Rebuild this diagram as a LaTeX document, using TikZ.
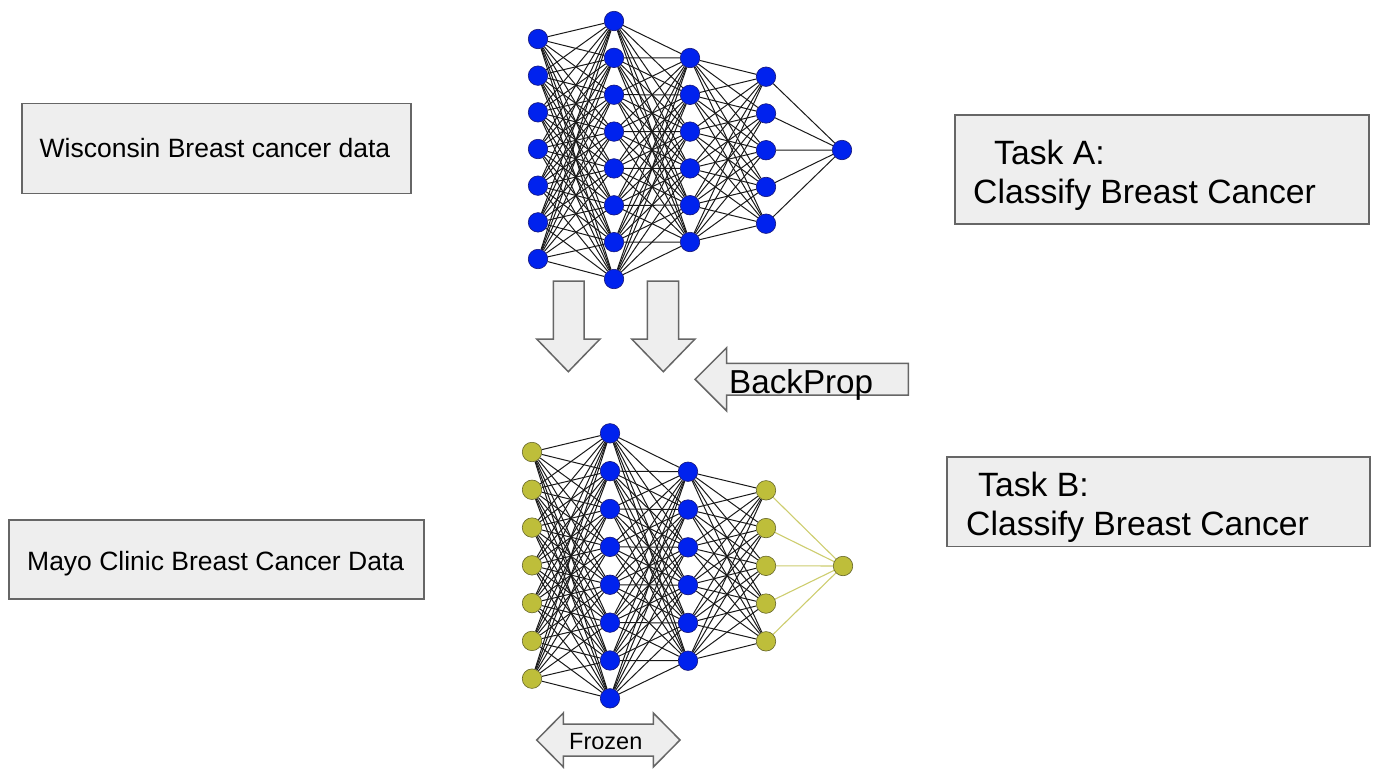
\documentclass[tikz,border=0pt]{standalone}
\usepackage{fontspec}
\setmainfont{Liberation Sans}
\usetikzlibrary{backgrounds}
\definecolor{nblue}{RGB}{0,34,238}
\definecolor{nblueb}{RGB}{20,20,120}
\definecolor{nyel}{RGB}{190,190,58}
\definecolor{nyelb}{RGB}{100,100,40}
\definecolor{yedgec}{RGB}{205,205,110}
\definecolor{boxfill}{RGB}{238,238,238}
\definecolor{boxline}{RGB}{102,102,102}
\tikzset{
 neuron/.style={circle, minimum size=19.5pt, inner sep=0pt, line width=0.6pt},
 bneuron/.style={neuron, fill=nblue, draw=nblueb},
 yneuron/.style={neuron, fill=nyel, draw=nyelb},
 edge/.style={line width=1pt, black!90},
 yedge/.style={line width=1.1pt, yedgec},
 box/.style={draw=boxline, fill=boxfill, line width=1.5pt, inner sep=0pt},
 bigarrow/.style={draw=boxline, fill=boxfill, line width=1.5pt, line join=miter},
 lbl/.style={inner sep=0pt, anchor=base west},
 clbl/.style={inner sep=0pt, anchor=base},
}
\begin{document}
\begin{tikzpicture}[x=1pt,y=-1pt]
\useasboundingbox (0,0) rectangle (1390,782);

% ---------- boxes ----------
\node[box, minimum width=389pt, minimum height=90pt] (wisc) at (216.5,148.3) {};
\node[clbl, font=\fontsize{26.5}{30}\selectfont] (wisct) at (215,157.5) {Wisconsin Breast cancer data};

\node[box, minimum width=415pt, minimum height=79pt] (mayo) at (216.5,559.7) {};
\node[clbl, font=\fontsize{26.5}{30}\selectfont] (mayot) at (215.7,570) {Mayo Clinic Breast Cancer Data};

\node[box, minimum width=414pt, minimum height=109pt] (taska) at (1162,169.5) {};
\node[lbl, font=\fontsize{33.7}{40}\selectfont] (taska1) at (994,164) {Task A:};
\node[lbl, font=\fontsize{33.7}{40}\selectfont] (taska2) at (973,203.5) {Classify Breast Cancer};

\node[box, minimum width=423pt, minimum height=89.7pt] (taskb) at (1158.5,501.8) {};
\node[lbl, font=\fontsize{33.7}{40}\selectfont] (taskb1) at (978,496) {Task B:};
\node[lbl, font=\fontsize{33.7}{40}\selectfont] (taskb2) at (966,535.5) {Classify Breast Cancer};

% ---------- big arrows ----------
\draw[bigarrow] (553.3,281) -- (584,281) -- (584,339) -- (600,339) -- (568.3,371.7) -- (536.7,339) -- (553.3,339) -- cycle;
\draw[bigarrow] (647.3,281) -- (678.7,281) -- (678.7,339) -- (695,339) -- (663.3,371.7) -- (631.7,339) -- (647.3,339) -- cycle;
\draw[bigarrow] (908.3,363.3) -- (726.7,363.3) -- (726.7,347.7) -- (695,379.3) -- (726.7,411) -- (726.7,395) -- (908.3,395) -- cycle;
\node[lbl, font=\fontsize{33.2}{38}\selectfont] (bp) at (729,393.5) {BackProp};
\draw[bigarrow] (536.7,740) -- (563.3,713) -- (563.3,724) -- (653.3,724) -- (653.3,713) -- (680,740) -- (653.3,767) -- (653.3,756) -- (563.3,756) -- (563.3,767) -- cycle;
\node[lbl, font=\fontsize{23.5}{27}\selectfont] (fz) at (569,749) {Frozen};

% ---------- top network ----------
\foreach \i in {1,...,7} \node[bneuron] (a1-\i) at (538,{39+36.67*(\i-1)}) {};
\foreach \i in {1,...,8} \node[bneuron] (a2-\i) at (614,{21+36.86*(\i-1)}) {};
\foreach \i in {1,...,6} \node[bneuron] (a3-\i) at (690,{58+36.8*(\i-1)}) {};
\foreach \i in {1,...,5} \node[bneuron] (a4-\i) at (766,{76.7+36.75*(\i-1)}) {};
\node[bneuron] (a5) at (842,150) {};
\begin{scope}[on background layer]
\foreach \i in {1,...,7} \foreach \j in {1,...,8} \draw[edge] (a1-\i) -- (a2-\j);
\foreach \i in {1,...,8} \foreach \j in {1,...,6} \draw[edge] (a2-\i) -- (a3-\j);
\foreach \i in {1,...,6} \foreach \j in {1,...,5} \draw[edge] (a3-\i) -- (a4-\j);
\foreach \i in {1,...,5} \draw[edge] (a4-\i) -- (a5);
\end{scope}

% ---------- bottom network ----------
\foreach \i in {1,...,7} \node[yneuron] (b1-\i) at (532,{452+37.78*(\i-1)}) {};
\foreach \i in {1,...,8} \node[bneuron] (b2-\i) at (610,{433.3+37.86*(\i-1)}) {};
\foreach \i in {1,...,6} \node[bneuron] (b3-\i) at (688,{471.7+37.8*(\i-1)}) {};
\foreach \i in {1,...,5} \node[yneuron] (b4-\i) at (766,{490.3+37.75*(\i-1)}) {};
\node[yneuron] (b5) at (843,566) {};
\begin{scope}[on background layer]
\foreach \i in {1,...,7} \foreach \j in {1,...,8} \draw[edge] (b1-\i) -- (b2-\j);
\foreach \i in {1,...,8} \foreach \j in {1,...,6} \draw[edge] (b2-\i) -- (b3-\j);
\foreach \i in {1,...,6} \foreach \j in {1,...,5} \draw[edge] (b3-\i) -- (b4-\j);
\foreach \i in {1,...,5} \draw[yedge] (b4-\i) -- (b5);
\end{scope}
\end{tikzpicture}
\end{document}
